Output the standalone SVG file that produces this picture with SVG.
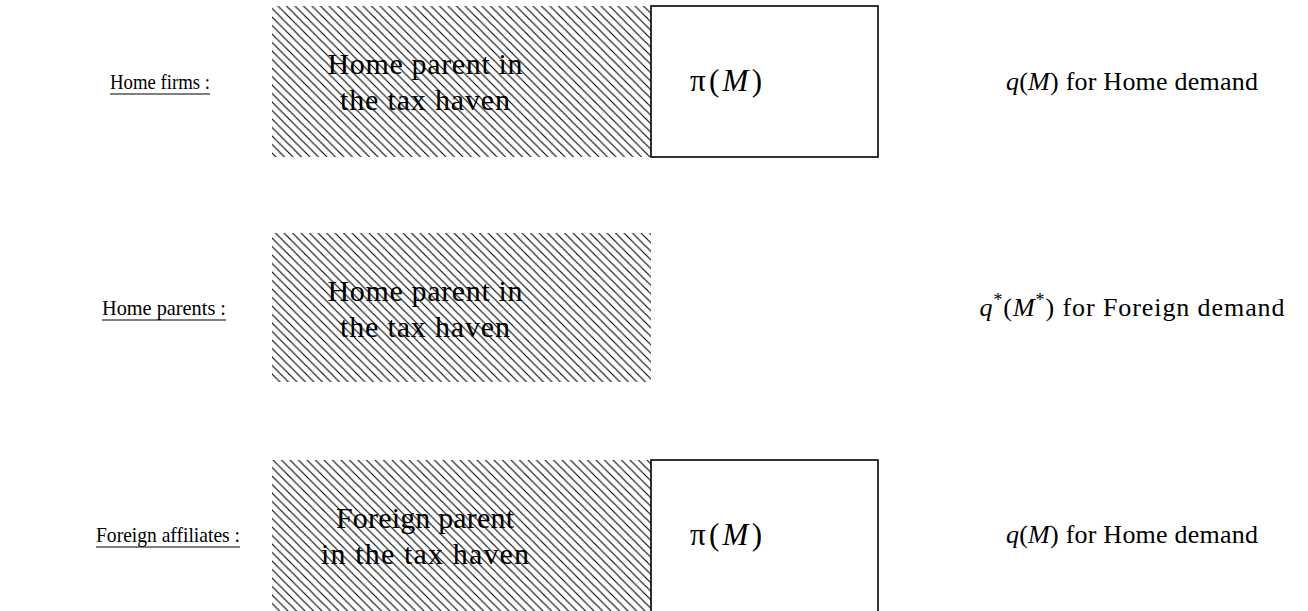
<svg xmlns="http://www.w3.org/2000/svg" width="1308" height="611" viewBox="0 0 1308 611">
<defs>
<pattern id="hatch" patternUnits="userSpaceOnUse" width="8.5" height="8.5">
<path d="M0,0 L8.5,8.5 M-1,7.5 L1,9.5 M7.5,-1 L9.5,1" stroke="#000" stroke-width="1.1" fill="none"/>
</pattern>
</defs>
<style>
text{font-family:"Liberation Serif","DejaVu Serif",serif;fill:#000}
.lbl{font-size:21px;text-anchor:middle}
.in{font-size:30px;text-anchor:middle}
.m{font-size:31px}
.r{font-size:26px;text-anchor:middle}
.hatch{fill:url(#hatch);stroke:none}
.box{fill:#fff;stroke:#000;stroke-width:1.6}
.ul{stroke:#000;stroke-width:1.1}
.it{font-style:italic}
</style>
<g id="row1-label"><text class="lbl" x="160" y="89" textLength="100" lengthAdjust="spacingAndGlyphs">Home firms :</text><line class="ul" x1="110" y1="94" x2="210" y2="94"/></g>
<g id="row1-haven"><rect class="hatch" x="272" y="6" width="379" height="151"/><text class="in" x="425" y="74" textLength="195">Home parent in</text><text class="in" x="425" y="110" textLength="170">the tax haven</text></g>
<g id="row1-profit"><rect class="box" x="651" y="6" width="227" height="151"/><text class="m" x="690" y="91" textLength="72">π(<tspan class="it">M</tspan>)</text></g>
<g id="row1-demand"><text class="r" x="1132" y="90" textLength="252"><tspan class="it">q</tspan>(<tspan class="it">M</tspan>) for Home demand</text></g>

<g id="row2-label"><text class="lbl" x="164" y="315" textLength="124" lengthAdjust="spacingAndGlyphs">Home parents :</text><line class="ul" x1="102" y1="320" x2="226" y2="320"/></g>
<g id="row2-haven"><rect class="hatch" x="272" y="233" width="379" height="149"/><text class="in" x="425" y="301" textLength="195">Home parent in</text><text class="in" x="425" y="337" textLength="170">the tax haven</text></g>
<g id="row2-demand"><text class="r" x="1132" y="316" textLength="305"><tspan class="it">q</tspan><tspan font-size="18" dy="-10">*</tspan><tspan dy="10">(</tspan><tspan class="it">M</tspan><tspan font-size="18" dy="-10">*</tspan><tspan dy="10">) for Foreign demand</tspan></text></g>

<g id="row3-label"><text class="lbl" x="168" y="542" textLength="144" lengthAdjust="spacingAndGlyphs">Foreign affiliates :</text><line class="ul" x1="96" y1="547" x2="240" y2="547"/></g>
<g id="row3-haven"><rect class="hatch" x="272" y="460" width="379" height="151"/><text class="in" x="425" y="528" textLength="178">Foreign parent</text><text class="in" x="425" y="564" textLength="208">in the tax haven</text></g>
<g id="row3-profit"><rect class="box" x="651" y="460" width="227" height="153"/><text class="m" x="690" y="545" textLength="72">π(<tspan class="it">M</tspan>)</text></g>
<g id="row3-demand"><text class="r" x="1132" y="543" textLength="252"><tspan class="it">q</tspan>(<tspan class="it">M</tspan>) for Home demand</text></g>
<g id="connectors"/>
</svg>
